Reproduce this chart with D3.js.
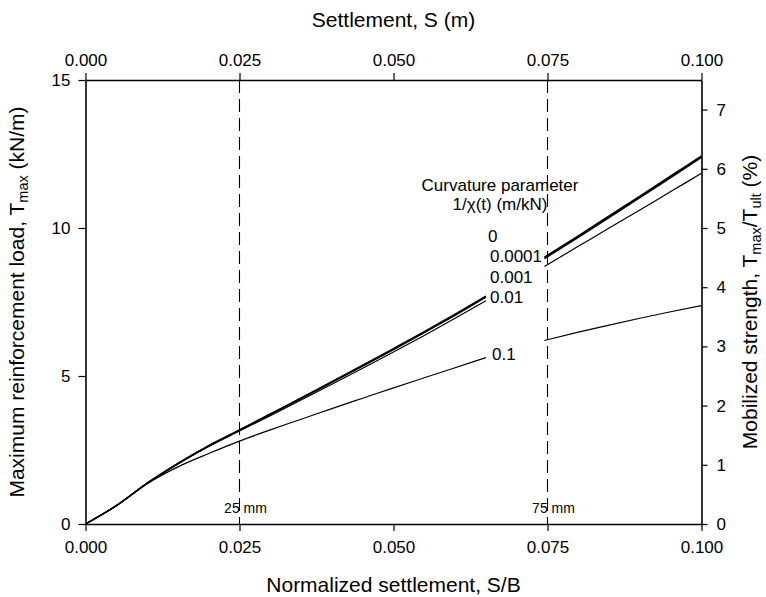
<!DOCTYPE html>
<html>
<head>
<meta charset="utf-8">
<script src="https://cdn.jsdelivr.net/npm/d3@7"></script>
<style>
  html, body { margin: 0; padding: 0; background: #fff; }
  svg { display: block; font-family: "Liberation Sans", Arial, sans-serif; }
  .axis path, .axis line { stroke: #000; }
  .axis text { font-size: 17px; fill: #000; }
</style>
</head>
<body>
<svg id="chart" width="766" height="597"></svg>
<script>
// Normalized settlement S/B sample positions (left branch and right branch of each curve)
const sbLeft  = [0, 0.005, 0.010, 0.015, 0.020, 0.025, 0.030, 0.035, 0.040, 0.045, 0.050, 0.055, 0.060, 0.065];
const sbRight = [0.0745, 0.080, 0.085, 0.090, 0.095, 0.100];

// Curvature parameter values 1/chi(t) (m/kN)
const chiLabels = ["0", "0.0001", "0.001", "0.01", "0.1"];

// Maximum reinforcement load Tmax (kN/m), one array per curvature parameter
const tmax0_left      = [0, 0.62, 1.38, 2.05, 2.65, 3.18, 3.72, 4.26, 4.81, 5.37, 5.93, 6.50, 7.09, 7.70];
const tmax0001_left   = [0, 0.62, 1.38, 2.04, 2.64, 3.17, 3.71, 4.25, 4.80, 5.35, 5.91, 6.48, 7.07, 7.68];
const tmax001_left    = [0, 0.62, 1.37, 2.04, 2.63, 3.16, 3.69, 4.23, 4.78, 5.33, 5.89, 6.46, 7.05, 7.66];
const tmax01_left     = [0, 0.62, 1.37, 2.03, 2.62, 3.14, 3.66, 4.19, 4.72, 5.26, 5.81, 6.37, 6.95, 7.54];
const tmax1_left      = [0, 0.62, 1.36, 1.93, 2.38, 2.80, 3.18, 3.54, 3.90, 4.25, 4.60, 4.94, 5.28, 5.62];

const tmax0_right     = [9.02, 9.74, 10.41, 11.08, 11.76, 12.44];
const tmax0001_right  = [8.99, 9.71, 10.38, 11.05, 11.73, 12.41];
const tmax001_right   = [8.96, 9.68, 10.35, 11.02, 11.70, 12.38];
const tmax01_right    = [8.70, 9.38, 10.00, 10.61, 11.23, 11.85];
const tmax1_right     = [6.20, 6.48, 6.72, 6.95, 7.17, 7.38];

// Axis ticks
const sbTicks = [0, 0.025, 0.050, 0.075, 0.100];
const sbMinorTicks = d3.range(0, 0.1001, 0.005);
const tmaxTicks = [0, 5, 10, 15];
const tmaxMinorTicks = d3.range(0, 15.01, 1);
const strengthTicks = [0, 1, 2, 3, 4, 5, 6, 7];

// Reference settlements marked with dashed lines
const markerSB = [0.025, 0.075];
const markerLabels = ["25 mm", "75 mm"];

const series = [
  { left: tmax0_left,    right: tmax0_right,    w: 1.3 },
  { left: tmax0001_left, right: tmax0001_right, w: 1.3 },
  { left: tmax001_left,  right: tmax001_right,  w: 1.3 },
  { left: tmax01_left,   right: tmax01_right,   w: 1.2 },
  { left: tmax1_left,    right: tmax1_right,    w: 1.2 }
];

const svg = d3.select("#chart");
const L = 85.5, R = 701.5, T = 80, B = 524;

const x = d3.scaleLinear().domain([0, 0.1]).range([L, R]);
const y = d3.scaleLinear().domain([0, 15]).range([B, T]);
const y2 = d3.scaleLinear().domain([0, 7.5]).range([B, T]);

const fmt3 = d3.format(".3f");

// Bottom axis (S/B)
const gB = svg.append("g").attr("class", "axis").attr("transform", `translate(0,${B})`);
gB.call(d3.axisBottom(x).tickValues(sbMinorTicks).tickSize(4).tickFormat("").tickSizeOuter(0));
gB.call(d3.axisBottom(x).tickValues(sbTicks).tickSize(7).tickPadding(10).tickFormat(fmt3).tickSizeOuter(0));

// Top axis (S in m)
const gT = svg.append("g").attr("class", "axis").attr("transform", `translate(0,${T})`);
gT.call(d3.axisTop(x).tickValues(sbMinorTicks).tickSize(4).tickFormat("").tickSizeOuter(0));
gT.call(d3.axisTop(x).tickValues(sbTicks).tickSize(7).tickPadding(7).tickFormat(fmt3).tickSizeOuter(0));

// Left axis (Tmax)
const gL = svg.append("g").attr("class", "axis").attr("transform", `translate(${L},0)`);
gL.call(d3.axisLeft(y).tickValues(tmaxMinorTicks).tickSize(4).tickFormat("").tickSizeOuter(0));
gL.call(d3.axisLeft(y).tickValues(tmaxTicks).tickSize(7).tickPadding(8).tickFormat(d3.format("d")).tickSizeOuter(0));

// Right axis (mobilized strength %)
const gR = svg.append("g").attr("class", "axis").attr("transform", `translate(${R},0)`);
gR.call(d3.axisRight(y2).tickValues(strengthTicks).tickSize(6).tickPadding(9).tickFormat(d3.format("d")).tickSizeOuter(0));

svg.selectAll(".axis path.domain").attr("stroke-width", 1.6);
svg.selectAll(".axis .tick line").attr("stroke-width", 1.2);

// Dashed reference lines
svg.append("g").selectAll("line").data(markerSB).join("line")
  .attr("x1", d => x(d)).attr("x2", d => x(d))
  .attr("y1", T).attr("y2", B)
  .attr("stroke", "#000").attr("stroke-width", 1.1)
  .attr("stroke-dasharray", "13,6");

svg.append("g").selectAll("text").data(markerSB).join("text")
  .attr("x", d => x(d) + 6).attr("y", 513)
  .attr("text-anchor", "middle").attr("font-size", 14)
  .text((d, i) => markerLabels[i]);

// Curves
const line = d3.line().x(d => x(d[0])).y(d => y(d[1])).curve(d3.curveMonotoneX);
const gC = svg.append("g").attr("fill", "none").attr("stroke", "#000");
series.forEach(s => {
  gC.append("path").attr("d", line(sbLeft.map((v, i) => [v, s.left[i]]))).attr("stroke-width", s.w);
  gC.append("path").attr("d", line(sbRight.map((v, i) => [v, s.right[i]]))).attr("stroke-width", s.w);
});

// Curve labels
const labelPos = [[488, 242], [490, 262], [490, 283], [490, 303], [492, 360]];
svg.append("g").selectAll("text").data(chiLabels).join("text")
  .attr("x", (d, i) => labelPos[i][0]).attr("y", (d, i) => labelPos[i][1])
  .attr("font-size", 17)
  .text(d => d);

svg.append("text").attr("x", 500).attr("y", 191).attr("text-anchor", "middle")
  .attr("font-size", 17).text("Curvature parameter");
svg.append("text").attr("x", 500).attr("y", 210).attr("text-anchor", "middle")
  .attr("font-size", 17).text("1/χ(t) (m/kN)");

// Axis titles
svg.append("text").attr("x", (L + R) / 2).attr("y", 27).attr("text-anchor", "middle")
  .attr("font-size", 21).text("Settlement, S (m)");
svg.append("text").attr("x", (L + R) / 2).attr("y", 592).attr("text-anchor", "middle")
  .attr("font-size", 21).text("Normalized settlement, S/B");

const tl = svg.append("text").attr("transform", `translate(24,${(T + B) / 2}) rotate(-90)`)
  .attr("text-anchor", "middle").attr("font-size", 21);
tl.append("tspan").text("Maximum reinforcement load, T");
tl.append("tspan").attr("font-size", 14.5).attr("dy", 4).text("max");
tl.append("tspan").attr("dy", -4).text(" (kN/m)");

const tr = svg.append("text").attr("transform", `translate(757,${(T + B) / 2}) rotate(-90)`)
  .attr("text-anchor", "middle").attr("font-size", 21);
tr.append("tspan").text("Mobilized strength, T");
tr.append("tspan").attr("font-size", 14.5).attr("dy", 4).text("max");
tr.append("tspan").attr("dy", -4).text("/T");
tr.append("tspan").attr("font-size", 14.5).attr("dy", 4).text("ult");
tr.append("tspan").attr("dy", -4).text(" (%)");
</script>
</body>
</html>
